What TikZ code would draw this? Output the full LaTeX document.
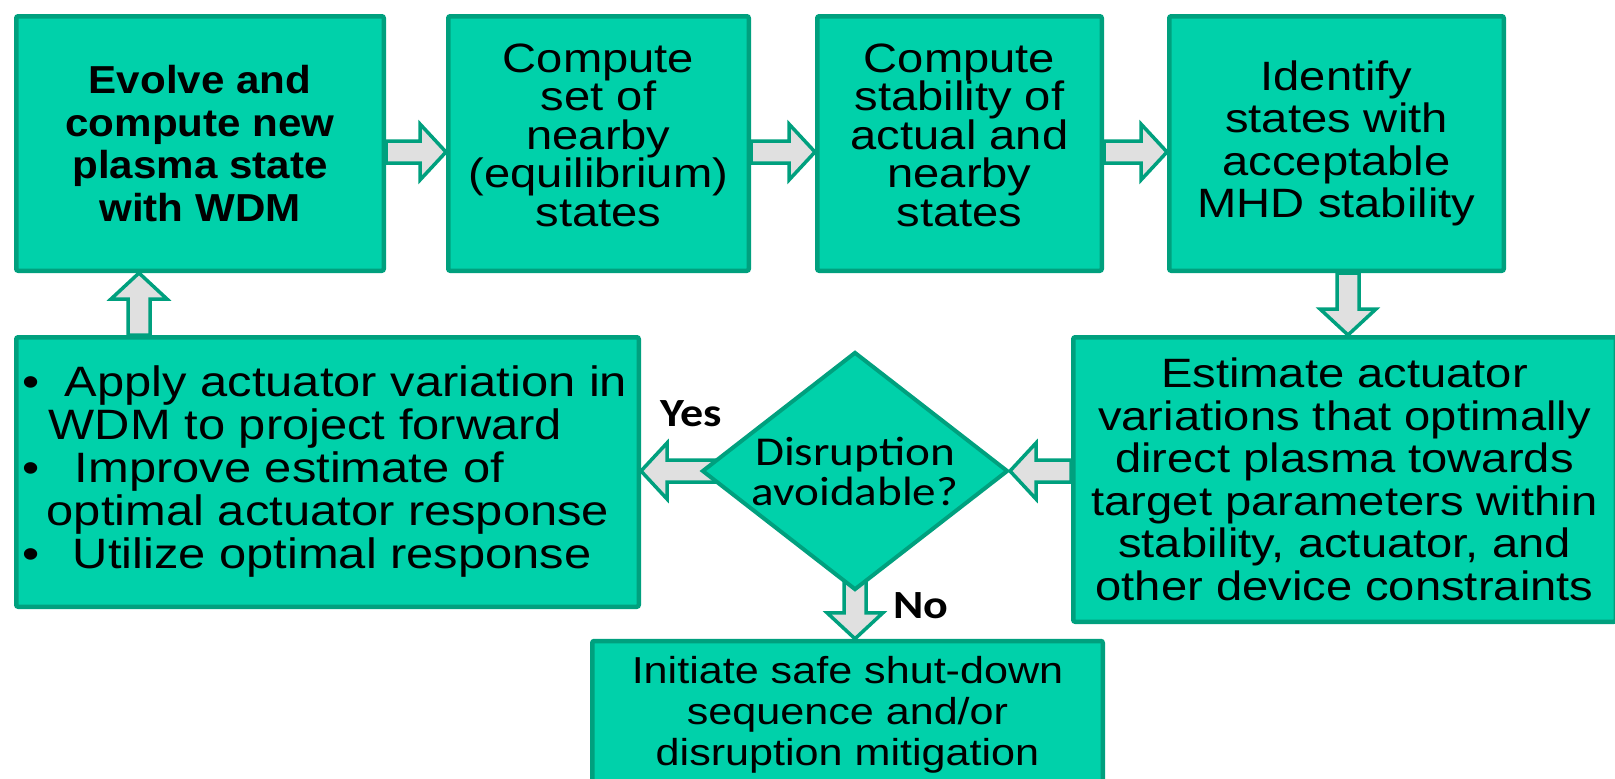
\documentclass[tikz,border=0pt]{standalone}
\usepackage{fontspec}
\setmainfont{Liberation Sans}[FakeStretch=1.15]
\newfontfamily\boldfam{Liberation Sans}[FakeStretch=1.08]
\newfontfamily\calib{Carlito}[FakeStretch=1.15]
\usetikzlibrary{calc,shapes.geometric,backgrounds}
\definecolor{boxfill}{RGB}{0,209,170}
\definecolor{bordc}{RGB}{0,160,126}
\definecolor{arrowc}{RGB}{224,224,224}
\tikzset{
  box/.style={draw=bordc, fill=boxfill, line width=4.5pt, rounded corners=2pt, inner sep=0pt, align=center},
  txt/.style={font=\fontsize{41}{42.5}\selectfont},
  tighttxt/.style={font=\fontsize{41}{38.6}\selectfont, text depth=17pt},
  barrow/.style={draw=bordc, fill=arrowc, line width=3.5pt, line join=miter,
    to path={let \p1=(\tikztostart), \p2=(\tikztotarget), \p3=($(\p2)!26pt!(\p1)$) in
      ($(\p1)!11pt!90:(\p2)$) -- ($(\p3)!11pt!90:(\p2)$) -- ($(\p3)!28pt!90:(\p2)$) -- (\p2)
      -- ($(\p3)!28pt!-90:(\p2)$) -- ($(\p3)!11pt!-90:(\p2)$) -- ($(\p1)!11pt!-90:(\p2)$) -- cycle}},
  lab/.style={font=\calib\bfseries\fontsize{40}{40}\selectfont, inner sep=0pt}
}
\begin{document}
\begin{tikzpicture}[x=1pt,y=-1pt]
\useasboundingbox (0,0) rectangle (1615,779);
\clip (0,0) rectangle (1615,779);

\node[box, minimum width=367.5pt, minimum height=254.5pt, font=\boldfam\bfseries\fontsize{39}{42.5}\selectfont] (evolve) at (200,143.5) {Evolve and\\compute new\\plasma state\\with WDM};
\node[box, tighttxt, minimum width=300.5pt, minimum height=254.5pt] (nearby) at (598.5,143.5) {Compute\\set of\\nearby\\(equilibrium)\\states};
\node[box, tighttxt, minimum width=284.5pt, minimum height=254.5pt] (stab) at (959.5,143.5) {Compute\\stability of\\actual and\\nearby\\states};
\node[box, txt, minimum width=334.5pt, minimum height=254.5pt] (ident) at (1336.5,143.5) {Identify\\states with\\acceptable\\MHD stability};
\node[box, txt, minimum width=542.5pt, minimum height=284.5pt] (est) at (1344.5,479.5) {Estimate actuator\\variations that optimally\\direct plasma towards\\target parameters within\\stability, actuator, and\\other device constraints};
\node[box, align=left, minimum width=622.5pt, minimum height=269.5pt, font=\fontsize{42.5}{43}\selectfont] (apply) at (327.5,472)
  {\hspace*{-5pt}\makebox[42pt][l]{\textbullet}Apply actuator variation in\\
   \hspace*{21pt}WDM to project forward\\
   \hspace*{-5pt}\makebox[52pt][l]{\textbullet}Improve estimate of\\
   \hspace*{19pt}optimal actuator response\\
   \hspace*{-5pt}\makebox[50pt][l]{\textbullet}Utilize optimal response};
\node[draw=bordc, fill=boxfill, line width=4pt, shape=diamond, aspect=1.28, inner sep=0pt, minimum width=306pt, minimum height=238pt, align=center, font=\calib\fontsize{41}{40}\selectfont] (dia) at (855,471) {Disruption\\avoidable?};
\node[box, minimum width=510.5pt, minimum height=148pt, font=\fontsize{37.5}{41}\selectfont] (init) at (847.5,715) {Initiate safe shut-down\\sequence and/or\\disruption mitigation};

\node[lab] (yes) at (691,414) {Yes};
\node[lab] (no) at (921,606) {No};

\coordinate (row) at (0,152);
\coordinate (dcol) at (1348,0);
\coordinate (ucol) at (139,0);
\begin{scope}[on background layer]
\draw[barrow] (evolve.east |- row) to (nearby.west |- row);
\draw[barrow] (nearby.east |- row) to (stab.west |- row);
\draw[barrow] (stab.east |- row) to (ident.west |- row);
\draw[barrow] (ident.south -| dcol) to (est.north -| dcol);
\draw[barrow] (est.west |- dia) to (dia.east);
\draw[barrow] (dia.center) to (apply.east |- dia);
\draw[barrow] (dia.center) to (init.north -| dia);
\draw[barrow] (apply.north -| ucol) to (evolve.south -| ucol);
\end{scope}
\end{tikzpicture}
\end{document}
